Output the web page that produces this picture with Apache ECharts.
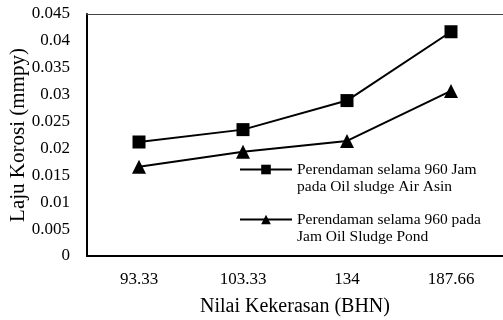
<!DOCTYPE html>
<html>
<head>
<meta charset="utf-8">
<script src="https://cdn.jsdelivr.net/npm/echarts@6/dist/echarts.min.js"></script>
<style>
  html, body { margin: 0; padding: 0; background: #fff; }
  #chart { width: 503px; height: 320px; }
</style>
</head>
<body>
<div id="chart"></div>
<script>
// Hardness values (BHN) on the category axis
const hardness = ['93.33', '103.33', '134', '187.66'];
// Corrosion rate (mmpy) after 960 h immersion
const airAsin = [0.0212, 0.0235, 0.0289, 0.0417];
const sludgePond = [0.0166, 0.0194, 0.0214, 0.0307];
const seriesNames = [
  'Perendaman selama 960 Jam\npada Oil sludge Air Asin',
  'Perendaman selama 960 pada\nJam Oil Sludge Pond'
];

const FONT = '"Liberation Serif", "Times New Roman", serif';

const chart = echarts.init(document.getElementById('chart'), null, { renderer: 'canvas' });

chart.setOption({
  animation: false,
  backgroundColor: '#ffffff',
  textStyle: { fontFamily: FONT, color: '#000' },
  grid: { left: 87, right: 0, top: 14, bottom: 64, containLabel: false, outerBoundsMode: 'none' },
  legend: {
    orient: 'vertical',
    left: 234,
    top: 139,
    itemWidth: 52,
    itemHeight: 12,
    itemGap: -1,
    // leading blank line keeps the icon level with the first text line
    formatter: name => '\n' + name,
    textStyle: { fontFamily: FONT, fontSize: 15.5, color: '#000', lineHeight: 17 },
    data: seriesNames
  },
  xAxis: [{
    type: 'category',
    data: hardness,
    boundaryGap: true,
    name: 'Nilai Kekerasan (BHN)',
    nameLocation: 'middle',
    nameGap: 41,
    nameMoveOverlap: false,
    nameTextStyle: { fontFamily: FONT, fontSize: 20, color: '#000' },
    axisLine: { lineStyle: { color: '#000', width: 2 } },
    axisTick: { show: false },
    axisLabel: { fontFamily: FONT, fontSize: 17, color: '#000', margin: 15 }
  }, {
    type: 'category',
    data: hardness,
    position: 'top',
    axisLine: { lineStyle: { color: '#444', width: 1 } },
    axisTick: { show: false },
    axisLabel: { show: false }
  }],
  yAxis: {
    type: 'value',
    min: 0,
    max: 0.045,
    interval: 0.005,
    name: 'Laju Korosi (mmpy)',
    nameLocation: 'middle',
    nameGap: 58,
    // the title sits over the tick labels, as drawn
    nameMoveOverlap: false,
    nameTextStyle: { fontFamily: FONT, fontSize: 21, color: '#000' },
    axisLine: { show: true, lineStyle: { color: '#000', width: 2 } },
    axisTick: { show: false },
    splitLine: { show: false },
    axisLabel: {
      fontFamily: FONT, fontSize: 17, color: '#000', margin: 17,
      formatter: v => String(parseFloat(v.toFixed(3)))
    }
  },
  series: [{
    name: seriesNames[0],
    type: 'line',
    data: airAsin,
    symbol: 'rect',
    symbolSize: 13,
    lineStyle: { color: '#000', width: 2 },
    itemStyle: { color: '#000' }
  }, {
    name: seriesNames[1],
    type: 'line',
    data: sludgePond,
    symbol: 'triangle',
    symbolSize: 14,
    lineStyle: { color: '#000', width: 2 },
    itemStyle: { color: '#000' }
  }]
});
</script>
</body>
</html>
